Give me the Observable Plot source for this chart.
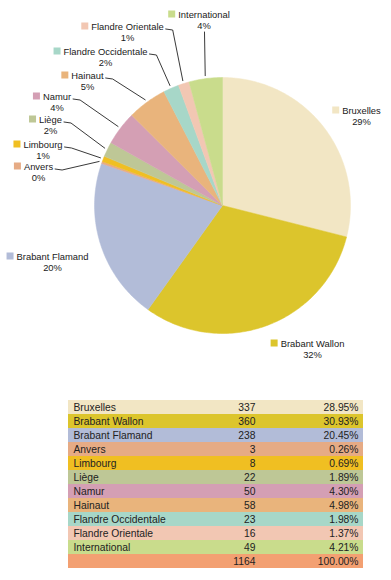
<!DOCTYPE html>
<html>
<head>
<meta charset="utf-8">
<script src="https://cdn.jsdelivr.net/npm/d3@7"></script>
<script src="https://cdn.jsdelivr.net/npm/@observablehq/plot@0.6"></script>
<style>
  html, body { margin: 0; padding: 0; background: #fff; }
  #chart svg { display: block; }
</style>
</head>
<body>
<div id="chart"></div>
<script>
// ---------- data ----------
const categories = ["Bruxelles", "Brabant Wallon", "Brabant Flamand", "Anvers", "Limbourg", "Liège", "Namur", "Hainaut", "Flandre Occidentale", "Flandre Orientale", "International"];
const counts = [337, 360, 238, 3, 8, 22, 50, 58, 23, 16, 49];
const percentLabels = ["28.95%", "30.93%", "20.45%", "0.26%", "0.69%", "1.89%", "4.30%", "4.98%", "1.98%", "1.37%", "4.21%"];
const pieLabels = ["29%", "32%", "20%", "0%", "1%", "2%", "4%", "5%", "2%", "1%", "4%"];
const totalCount = 1164;
const totalPercent = "100.00%";

// ---------- styles / layout ----------
const colors = ["#f2e6c4", "#dcc52c", "#b2bcd8", "#e6ab85", "#f0bf22", "#bec796", "#d49fb4", "#e9b47c", "#a7d7c8", "#f2c7b3", "#c9dc8c"];
const totalColor = "#f3a072";
const W = 391, PIE_H = 385, TABLE_H = 195;
const CX = 222, CY = 205, R = 128;
const FONT = "'Liberation Sans', Arial, Helvetica, sans-serif";
const LABEL_SIZE = 9.4, TABLE_SIZE = 10.3;
// label anchors: [center x of name, center y of name, leader mode]
const labelLayout = {
  "Bruxelles": [361, 110, "none"],
  "Brabant Wallon": [312, 343, "none"],
  "Brabant Flamand": [52, 256, "none"],
  "Anvers": [38, 166, "right"],
  "Limbourg": [42.5, 144, "right"],
  "Liège": [50, 119, "right"],
  "Namur": [56.5, 96, "right"],
  "Hainaut": [87, 75, "right"],
  "Flandre Occidentale": [105, 51, "right"],
  "Flandre Orientale": [127, 26, "right"],
  "International": [203.5, 14, "below"]
};

// text measurement
const ctx = document.createElement("canvas").getContext("2d");
ctx.font = `${LABEL_SIZE}px 'Liberation Sans'`;
const measure = (t) => ctx.measureText(t).width;

// ---------- pie geometry from data ----------
const arcs = d3.pie().sort(null).startAngle(0).endAngle(2 * Math.PI)(counts);
const pt = (a, r) => [CX + r * Math.sin(a), CY - r * Math.cos(a)];
const slicePts = [];
arcs.forEach((arc, i) => {
  const name = categories[i];
  const push = ([x, y]) => slicePts.push({name, x, y, color: colors[i]});
  push([CX, CY]);
  const n = Math.max(2, Math.ceil((arc.endAngle - arc.startAngle) / (Math.PI / 180)));
  for (let k = 0; k <= n; k++) push(pt(arc.startAngle + (arc.endAngle - arc.startAngle) * k / n, R));
  push([CX, CY]);
});

// labels, swatches, leaders
const nameRows = [], pctRows = [], swatches = [], leaders = [];
categories.forEach((name, i) => {
  const [lx, ly, mode] = labelLayout[name];
  const w = measure(name);
  nameRows.push({x: lx, y: ly, text: name});
  pctRows.push({x: lx, y: ly + 11, text: pieLabels[i]});
  const sx2 = lx - w / 2 - 2.5;
  swatches.push({x1: sx2 - 7, x2: sx2, y1: ly - 3.5, y2: ly + 3.5, color: colors[i]});
  const mid = (arcs[i].startAngle + arcs[i].endAngle) / 2;
  const end = pt(mid, R + 3);
  if (mode === "right") {
    const right = lx + w / 2;
    [[right + 2, ly + 2.5], [right + 9, ly + 3.5], end].forEach(([x, y]) => leaders.push({name, x, y}));
  } else if (mode === "below") {
    [[lx + 0.5, ly + 17.5], end].forEach(([x, y]) => leaders.push({name, x, y}));
  }
});

const pie = Plot.plot({
  width: W, height: PIE_H,
  margin: 0,
  x: {domain: [0, W], range: [0, W], axis: null},
  y: {domain: [0, PIE_H], range: [0, PIE_H], axis: null},
  color: {type: "identity"},
  style: {fontFamily: FONT, fontSize: LABEL_SIZE + "px", color: "#1a1a1a", background: "#fff"},
  marks: [
    Plot.line(slicePts, {x: "x", y: "y", z: "name", fill: "color", stroke: "color", strokeWidth: 0.5, curve: "linear"}),
    Plot.line(leaders, {x: "x", y: "y", z: "name", stroke: "#222", strokeWidth: 0.9}),
    Plot.rect(swatches, {x1: "x1", x2: "x2", y1: "y1", y2: "y2", fill: "color"}),
    Plot.text(nameRows, {x: "x", y: "y", text: "text", fill: "#1a1a1a"}),
    Plot.text(pctRows, {x: "x", y: "y", text: "text", fill: "#1a1a1a"})
  ]
});

// ---------- table ----------
const rows = categories.map((name, i) => ({i, name, count: String(counts[i]), pct: percentLabels[i], color: colors[i]}));
rows.push({i: categories.length, name: "", count: String(totalCount), pct: totalPercent, color: totalColor});
const COUNT_COL = (255 - 68) / (363 - 68);

const table = Plot.plot({
  width: W, height: TABLE_H,
  marginLeft: 68, marginRight: W - 363, marginTop: 11, marginBottom: 8,
  x: {domain: [0, 1], axis: null},
  y: {domain: rows.map(d => d.i), type: "band", padding: 0, axis: null},
  color: {type: "identity"},
  style: {fontFamily: FONT, fontSize: TABLE_SIZE + "px", background: "#fff"},
  marks: [
    Plot.barX(rows, {x1: 0, x2: 1, y: "i", fill: "color"}),
    Plot.text(rows, {x: 0, y: "i", text: "name", textAnchor: "start", dx: 5, fill: "#222"}),
    Plot.text(rows, {x: COUNT_COL, y: "i", text: "count", textAnchor: "end", fill: "#222"}),
    Plot.text(rows, {x: 1, y: "i", text: "pct", textAnchor: "end", dx: -5, fill: "#222"})
  ]
});

const el = document.getElementById("chart");
el.appendChild(pie);
el.appendChild(table);
</script>
</body>
</html>
